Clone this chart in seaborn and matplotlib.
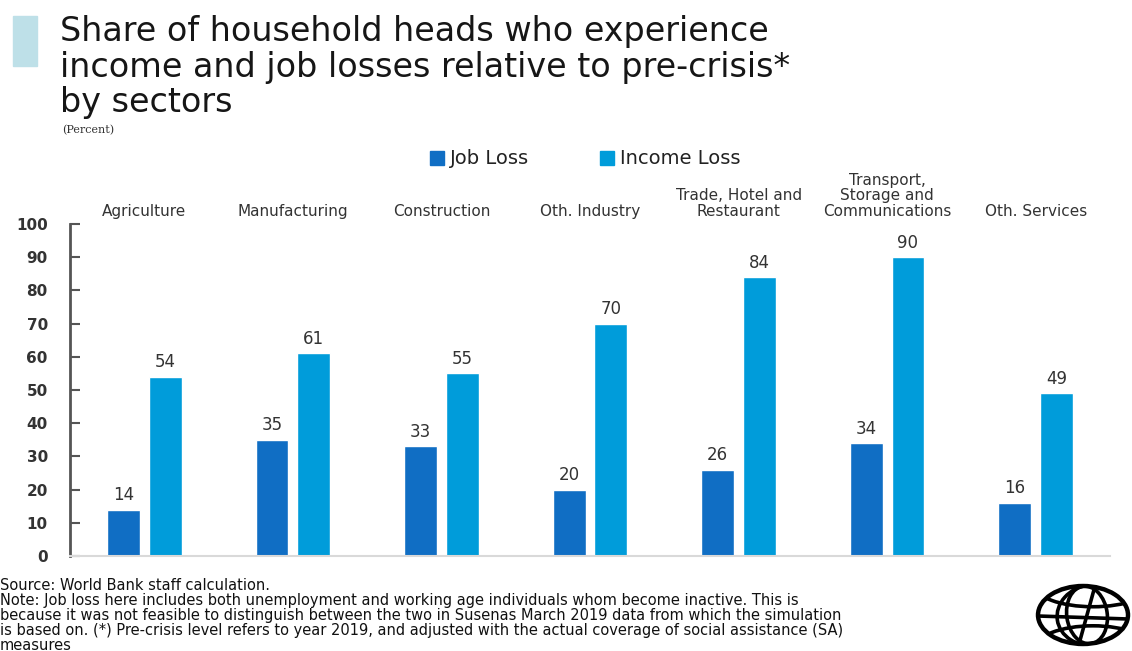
import matplotlib
matplotlib.use("Agg")
import matplotlib.pyplot as plt
import numpy as np
import pandas as pd
import seaborn as sns
from matplotlib.patches import Rectangle, Ellipse, Arc

sectors = ["Agriculture", "Manufacturing", "Construction", "Oth. Industry",
           "Trade, Hotel and\nRestaurant", "Transport,\nStorage and\nCommunications",
           "Oth. Services"]
job_loss = [14, 35, 33, 20, 26, 34, 16]
income_loss = [54, 61, 55, 70, 84, 90, 49]
series = ["Job Loss", "Income Loss"]
colors = ["#106EC4", "#009CDA"]
yticks = [0, 10, 20, 30, 40, 50, 60, 70, 80, 90, 100]

df = pd.DataFrame({
    "sector": sectors * 2,
    "value": job_loss + income_loss,
    "series": [series[0]] * len(sectors) + [series[1]] * len(sectors),
})

sns.set_theme(style="white")
plt.rcParams["font.family"] = ["DejaVu Sans"]

W, H = 1132, 651
fig = plt.figure(figsize=(W / 100, H / 100), dpi=100)
ax = fig.add_axes([70 / W, 1 - 556 / H, 1040 / W, 332 / H])

sns.barplot(data=df, x="sector", y="value", hue="series", order=sectors,
            hue_order=series, palette=colors, width=0.56, gap=0.21,
            saturation=1, legend=False, ax=ax)

ax.set_xlim(-0.5, len(sectors) - 0.5)
ax.set_ylim(0, 100)
ax.set_yticks(yticks)
ax.set_yticklabels([str(t) for t in yticks], fontsize=11, fontweight="bold",
                   color="#333333")
ax.tick_params(axis="y", direction="in", length=7, width=1.5, color="#555555",
               pad=16, left=True)
ax.set_xticks([])
ax.set_xlabel("")
ax.set_ylabel("")
for s in ["top", "right"]:
    ax.spines[s].set_visible(False)
ax.spines["left"].set_color("#555555")
ax.spines["left"].set_linewidth(2)
ax.spines["bottom"].set_color("#D9D9D9")
ax.spines["bottom"].set_linewidth(1.5)

# value labels above each bar
for cont in ax.containers:
    ax.bar_label(cont, fmt="%d", padding=4, fontsize=12, color="#333333")

# sector names above the plot area
for i, name in enumerate(sectors):
    ax.text(i, 101.5, name, ha="center", va="bottom", fontsize=11,
            color="#333333", linespacing=1.05)

# title block
fig.patches.append(Rectangle((13 / W, 1 - 66 / H), 24 / W, 50 / H,
                             transform=fig.transFigure, color="#BEE0E8"))
fig.text(60 / W, 1 - 15 / H,
         "Share of household heads who experience\n"
         "income and job losses relative to pre-crisis*\n"
         "by sectors",
         ha="left", va="top", fontsize=24, color="#161616", linespacing=1.1)
fig.text(62 / W, 1 - 130 / H, "(Percent)", ha="left", va="center",
         fontsize=8, family="DejaVu Serif", color="#333333")

# legend
for x0, lab, c in [(430, series[0], colors[0]), (600, series[1], colors[1])]:
    fig.patches.append(Rectangle((x0 / W, 1 - 165 / H), 14 / W, 14 / H,
                                 transform=fig.transFigure, color=c))
    fig.text((x0 + 20) / W, 1 - 158 / H, lab, ha="left", va="center",
             fontsize=14, color="#222222")

# footer notes
notes = [
    "Source: World Bank staff calculation.",
    "Note: Job loss here includes both unemployment and working age individuals whom become inactive. This is",
    "because it was not feasible to distinguish between the two in Susenas March 2019 data from which the simulation",
    "is based on. (*) Pre-crisis level refers to year 2019, and adjusted with the actual coverage of social assistance (SA)",
    "measures",
]
for k, line in enumerate(notes):
    fig.text(0, 1 - (586 + 14.8 * k) / H, line, ha="left", va="center",
             fontsize=10.5, color="#111111")

# globe emblem: outline, meridians and parallels clipped to the disc
gax = fig.add_axes([1032 / W, 0, 100 / W, 70 / H])
gax.set_xlim(1032, 1132)
gax.set_ylim(651, 581)
gax.axis("off")
cx, cy, rx, ry = 1083, 615, 45, 29
lw = 2.6
outline = Ellipse((cx, cy), 2 * rx, 2 * ry, fill=False, lw=lw + 0.6, color="black")
gax.add_patch(outline)
clip = Ellipse((cx, cy), 2 * rx, 2 * ry, transform=gax.transData)
parts = [
    Ellipse((cx + 4, cy), 0.9 * rx, 2 * ry, angle=-8, fill=False, lw=lw, color="black"),
    Ellipse((cx + 10, cy), 1.6 * rx, 2.1 * ry, angle=-8, fill=False, lw=lw, color="black"),
    Arc((cx + 10, cy + 34), 2.6 * rx, 1.6 * ry, theta1=180, theta2=360, lw=lw, color="black"),
    Arc((cx + 10, cy - 30), 2.6 * rx, 1.5 * ry, theta1=0, theta2=180, lw=lw, color="black"),
]
for p in parts:
    gax.add_patch(p)
    p.set_clip_path(clip)
ln, = gax.plot([cx - rx, cx + rx], [cy + 1, cy + 4], color="black", lw=lw)
ln.set_clip_path(clip)
ln2, = gax.plot([cx + 12, cx - 4], [cy - ry, cy + ry], color="black", lw=lw)
ln2.set_clip_path(clip)

fig.savefig("out.png", dpi=100, facecolor="white")
